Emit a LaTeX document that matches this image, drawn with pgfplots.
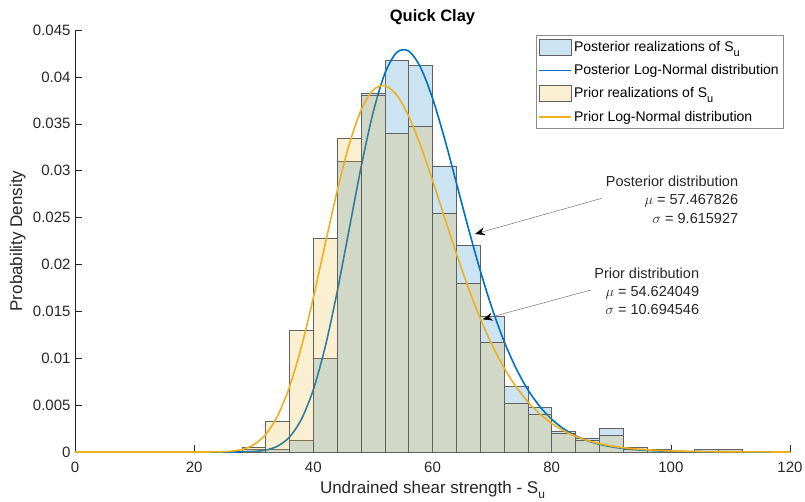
\documentclass[border=0pt]{standalone}
\usepackage{fontspec}
\setmainfont{Liberation Sans}
\usepackage{pgfplots}
\pgfplotsset{compat=1.18}
\usetikzlibrary{arrows.meta}

\definecolor{postc}{RGB}{0,114,189}
\definecolor{priorc}{RGB}{237,177,32}
\definecolor{axcol}{RGB}{38,38,38}

\begin{document}
\begin{tikzpicture}
\begin{axis}[
  scale only axis, width=715pt, height=422pt,
  xmin=0, xmax=120, ymin=0, ymax=0.045,
  axis x line*=bottom, axis y line*=left,
  axis line style={draw=axcol, line width=0.5pt},
  xtick={0,20,40,60,80,100,120},
  xticklabels={0,20,40,60,80,100,120},
  ytick={0,0.005,0.01,0.015,0.02,0.025,0.03,0.035,0.04,0.045},
  yticklabels={0,0.005,0.01,0.015,0.02,0.025,0.03,0.035,0.04,0.045},
  scaled y ticks=false,
  tick align=inside, major tick length=7pt,
  tick style={draw=axcol, line width=0.5pt},
  tick label style={font=\fontsize{15}{18}\selectfont, text=axcol},
  xticklabel style={yshift=-6.5pt},
  yticklabel style={xshift=-1pt},
  title={Quick Clay},
  title style={font=\fontsize{16.5}{20}\selectfont\bfseries, at={(axis description cs:0.5,1.0060)}, anchor=base},
  xlabel={Undrained shear strength - S\raisebox{-4.5pt}{\fontsize{12}{12}\selectfont u}},
  xlabel style={font=\fontsize{17}{20}\selectfont, text=axcol, at={(axis description cs:0.5,-0.0995)}, anchor=base},
  ylabel={Probability Density},
  ylabel style={font=\fontsize{17}{20}\selectfont, text=axcol, at={(axis description cs:-0.0741,0.5)}, anchor=base},
  legend style={at={(axis description cs:1,1)}, anchor=north east, xshift=-7pt, yshift=-5pt,
    draw=black!45, line width=0.5pt, font=\fontsize{14}{16}\selectfont,
    inner xsep=2pt, inner ysep=4pt, row sep=7pt},
  legend cell align=left,
  clip mode=individual,
  patchlegend/.style={legend image code/.code={\draw[##1] (0pt,-8pt) rectangle (32pt,8pt);}},
  linelegend/.style={legend image code/.code={\draw[##1] (0pt,0pt) -- (32pt,0pt);}},
]

% posterior histogram (density, bin width 4)
\addplot[forget plot, ybar interval, fill=postc, fill opacity=0.2, draw=black!62, line width=0.5pt]
coordinates {
(28,0.00025) (32,0.00025) (36,0.00125) (40,0.0100) (44,0.0310) (48,0.03825)
(52,0.04175) (56,0.04125) (60,0.0305) (64,0.0220) (68,0.0145) (72,0.0070)
(76,0.00475) (80,0.00225) (84,0.0015) (88,0.0025) (92,0.0005) (96,0)
(100,0) (104,0.00025) (108,0.00025) (112,0)
};

% posterior log-normal pdf
\addplot[forget plot, smooth, draw=postc, line width=1.6pt]
coordinates {
(0,0) (10,0) (20,0) (22,0) (24,0.0000002) (26,0.0000016) (28,0.0000105)
(30,0.0000525) (32,0.0002019) (34,0.0006237) (36,0.0015991) (38,0.0034946)
(40,0.0066524) (42,0.011234) (44,0.017086) (46,0.023704) (48,0.030328)
(50,0.036119) (52,0.040360) (54,0.042611) (56,0.042759)
(58,0.040998) (60,0.037733) (62,0.033472) (64,0.028718) (66,0.023909)
(68,0.019369) (70,0.015307) (72,0.011828) (74,0.0089536) (76,0.0066525)
(78,0.0048592) (80,0.0034945) (82,0.0024777) (84,0.0017339) (86,0.0011992)
(88,0.00082031) (90,0.0005556) (92,0.0003729) (94,0.00024818) (96,0.00016392)
(98,0.00010751) (100,0.00007006) (105,0.0000234) (110,0.0000076)
(115,0.0000024) (120,0.0000007)
};

% prior histogram (density, bin width 4)
\addplot[forget plot, ybar interval, fill=priorc, fill opacity=0.2, draw=black!62, line width=0.5pt]
coordinates {
(28,0.0005) (32,0.00325) (36,0.0130) (40,0.02275) (44,0.0335) (48,0.0380)
(52,0.0340) (56,0.03475) (60,0.0255) (64,0.0180) (68,0.01175) (72,0.00525)
(76,0.0040) (80,0.0020) (84,0.00125) (88,0.00175) (92,0.00025) (96,0.00025)
(100,0) (104,0) (108,0.00025) (112,0)
};

% prior log-normal pdf
\addplot[forget plot, smooth, draw=priorc, line width=1.6pt]
coordinates {
(0,0) (10,0) (20,0.00000025) (22,0.0000025) (24,0.00001603) (26,0.00007513)
(28,0.0002698) (30,0.0007779) (32,0.0018682) (34,0.0038459) (36,0.0069469)
(38,0.011220) (40,0.016455) (42,0.022197) (44,0.027838) (46,0.032755)
(48,0.036436) (50,0.038570) (52,0.039073) (54,0.038065)
(56,0.035811) (58,0.032656) (60,0.028958) (62,0.025042) (64,0.021171)
(66,0.017537) (68,0.014261) (70,0.011405) (72,0.0089847) (74,0.0069815)
(76,0.0053579) (78,0.0040656) (80,0.0030535) (82,0.0022721) (84,0.0016762)
(86,0.0012271) (88,0.00089206) (90,0.00064433) (92,0.0004627) (94,0.00033051)
(96,0.00023494) (98,0.00016627) (100,0.00011721) (105,0.0000482)
(110,0.0000195) (115,0.0000078) (120,0.0000031)
};

% legend
\addlegendimage{patchlegend, draw=black!62, fill=postc!20, line width=0.5pt}
\addlegendentry{Posterior realizations of S\raisebox{-5pt}{\fontsize{11}{11}\selectfont u}}
\addlegendimage{linelegend, draw=postc, line width=1.6pt}
\addlegendentry{Posterior Log-Normal distribution}
\addlegendimage{patchlegend, draw=black!62, fill=priorc!20, line width=0.5pt}
\addlegendentry{Prior realizations of S\raisebox{-5pt}{\fontsize{11}{11}\selectfont u}}
\addlegendimage{linelegend, draw=priorc, line width=1.6pt}
\addlegendentry{Prior Log-Normal distribution}

% annotations
\tikzset{annot/.style={anchor=base east, inner sep=0pt, font=\fontsize{14.5}{17}\selectfont, text=axcol}}
\node[annot] at (axis cs:111.33,0.02829) {Posterior distribution};
\node[annot] at (axis cs:111.33,0.02634) {$\mu$ = 57.467826};
\node[annot] at (axis cs:111.33,0.02439) {$\sigma$ = 9.615927};
\node[annot] at (axis cs:104.78,0.01852) {Prior distribution};
\node[annot] at (axis cs:104.78,0.01656) {$\mu$ = 54.624049};
\node[annot] at (axis cs:104.78,0.01461) {$\sigma$ = 10.694546};

\draw[black!55, line width=0.5pt, -{Stealth[black, length=10pt, width=8pt, inset=3.5pt]}]
  (axis cs:88.39,0.02705) -- (axis cs:67.14,0.02325);
\draw[black!55, line width=0.5pt, -{Stealth[black, length=10pt, width=8pt, inset=3.5pt]}]
  (axis cs:86.55,0.01727) -- (axis cs:68.43,0.01415);
\end{axis}
\pgfresetboundingbox
\useasboundingbox (-75pt,-49pt) rectangle (730pt,452pt);
\end{tikzpicture}
\end{document}
